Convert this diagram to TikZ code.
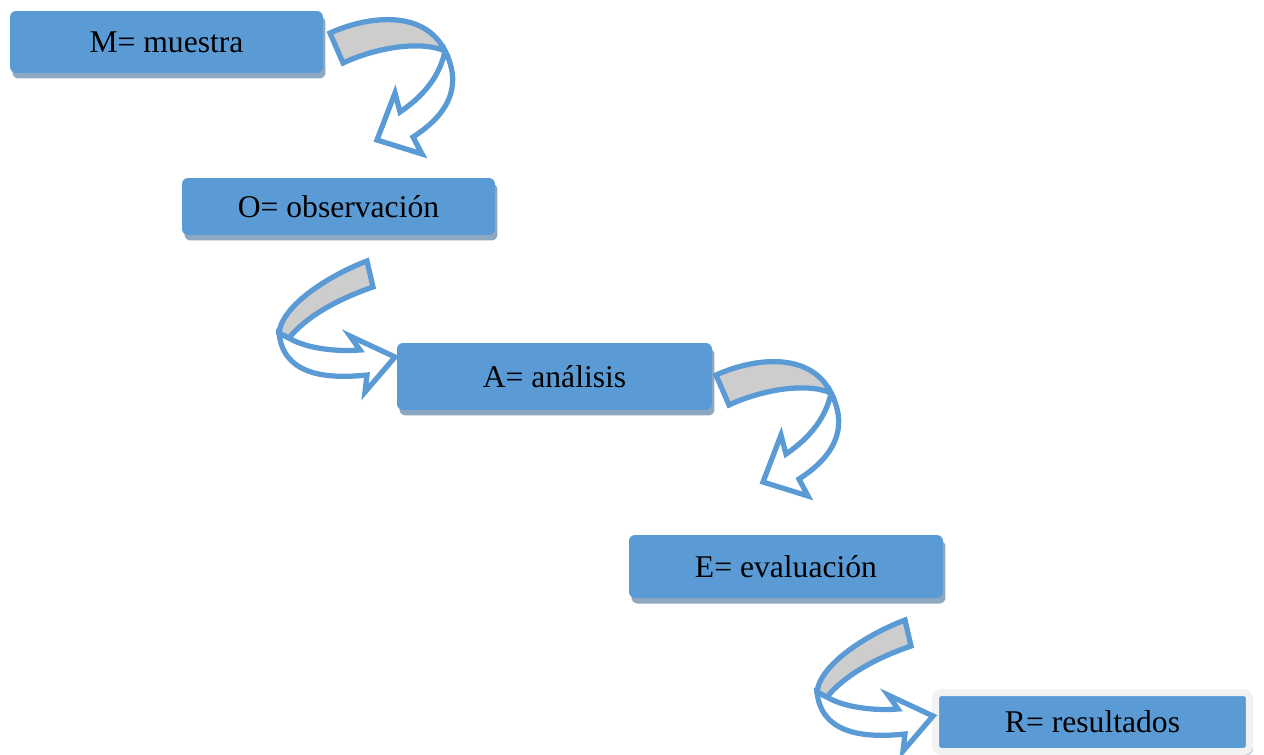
\documentclass[tikz,border=0pt]{standalone}
\usepackage{fontspec}
\setmainfont{Liberation Serif}
\usetikzlibrary{shadows}
\definecolor{boxblue}{RGB}{91,155,213}
\definecolor{shadowblue}{RGB}{143,168,194}
\definecolor{bandgray}{RGB}{205,205,205}
\definecolor{framegray}{RGB}{242,242,242}
\tikzset{
  stage/.style={fill=boxblue, rounded corners=0.12cm, inner sep=0pt,
    font=\fontsize{18}{22}\selectfont, text=black,
    general shadow={shadow xshift=0.05cm, shadow yshift=-0.11cm, fill=shadowblue}},
  arrowline/.style={draw=boxblue, line width=0.105cm, line join=miter},
  curvedown/.pic={
    \path[arrowline, fill=bandgray] (0,0) .. controls (40,-18) and (95,-23) .. (115,18)
      .. controls (90,7) and (45,15) .. (13,30) -- cycle;
    \path[arrowline, fill=white] (115,18) .. controls (130,47) and (125,77) .. (83,104)
      -- (92,121) -- (47,107) -- (65,60) -- (70,79)
      .. controls (95,62) and (110,42) .. (115,18) -- cycle;
  },
  curveleft/.pic={
    \path[arrowline, fill=white] (-78,77) .. controls (-62,87) and (-32,91) .. (-7,89)
      -- (-17,75) -- (28,96) -- (-2,131) -- (0,114)
      .. controls (-47,119) and (-84,111) .. (-88,72) -- cycle;
    \path[arrowline, fill=bandgray] (0,0) .. controls (-37,14) and (-85,44) .. (-88,72)
      -- (-78,77) .. controls (-62,57) and (-32,39) .. (6,26) -- cycle;
  }
}
\begin{document}
\begin{tikzpicture}[x=0.02cm, y=-0.02cm]
\useasboundingbox (0,0) rectangle (1264,754);
\node[stage, minimum width=6.26cm, minimum height=1.24cm] (M) at (166.5,42) {M= muestra};
\node[stage, minimum width=6.26cm, minimum height=1.14cm] (O) at (338.5,206.5) {O= observación};
\node[stage, minimum width=6.30cm, minimum height=1.34cm] (A) at (554.5,376.5) {A= análisis};
\node[stage, minimum width=6.28cm, minimum height=1.26cm] (E) at (786,566.5) {E= evaluación};
\node[fill=boxblue, draw=framegray, line width=0.14cm, rounded corners=0.12cm, inner sep=0pt,
  font=\fontsize{18}{22}\selectfont,
  minimum width=6.28cm, minimum height=1.18cm,
  general shadow={shadow xshift=0.07cm, shadow yshift=-0.07cm, fill=shadowblue!60}] (R) at (1092.5,722) {R= resultados};
\pic at (330,33) {curvedown};
\pic at (367,261) {curveleft};
\pic at (716,375) {curvedown};
\pic at (905,620) {curveleft};
\end{tikzpicture}
\end{document}
